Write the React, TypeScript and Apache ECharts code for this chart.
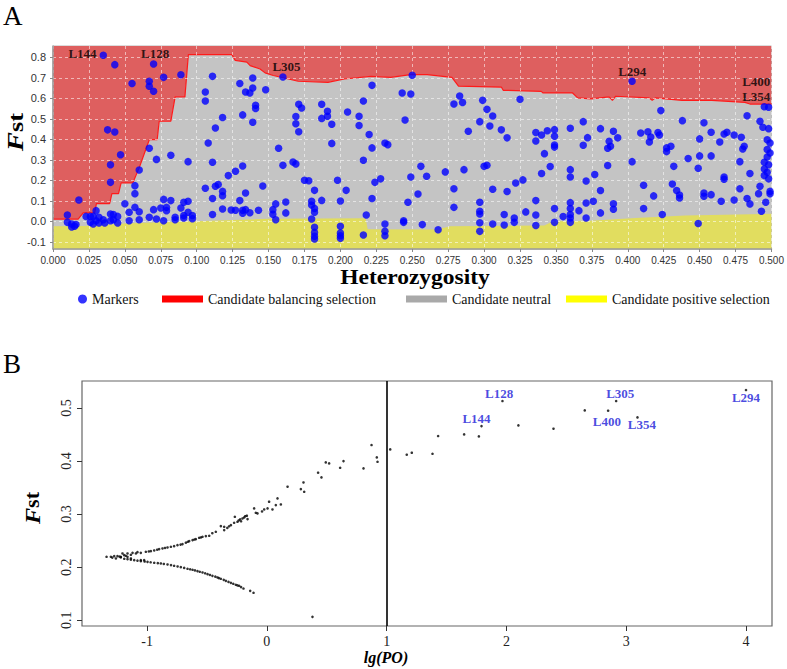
import React, { useEffect, useRef } from "react";
import * as echarts from "echarts";

// ---------- Panel A data (Heterozygosity vs Fst) ----------
const markers: number[][] = [
  [0.035,0.81],[0.043,0.764],[0.070,0.767],[0.055,0.672],[0.067,0.683],[0.067,0.659],[0.070,0.634],[0.077,0.702],[0.089,0.715],[0.111,0.707],
  [0.106,0.631],[0.106,0.587],[0.118,0.506],[0.113,0.455],[0.108,0.382],[0.038,0.446],[0.043,0.436],[0.047,0.325],[0.040,0.276],[0.040,0.19],
  [0.018,0.104],[0.010,0.031],[0.067,0.356],[0.072,0.302],[0.082,0.322],[0.094,0.291],[0.060,0.25],[0.111,0.288],[0.057,0.174],[0.057,0.135],
  [0.050,0.086],[0.057,0.068],[0.053,0.044],[0.060,0.047],[0.053,0.003],[0.060,0.008],[0.077,0.107],[0.082,0.101],[0.075,0.065],[0.079,0.068],
  [0.079,0.052],[0.070,0.057],[0.067,0.02],[0.072,0.011],[0.077,0.003],[0.085,0.02],[0.085,0.008],[0.091,0.093],[0.094,0.098],[0.089,0.065],
  [0.091,0.028],[0.094,0.044],[0.097,0.028],[0.097,0.013],[0.091,0.016],[0.106,0.161],[0.111,0.111],[0.113,0.171],[0.115,0.179],[0.118,0.146],
  [0.118,0.125],[0.122,0.223],[0.111,0.033],[0.118,0.06],[0.124,0.055],[0.030,0.052],[0.040,0.036],[0.042,0.033],[0.045,0.024],[0.040,0.003],
  [0.045,-0.008],[0.023,0.024],[0.026,0.024],[0.028,0.024],[0.032,0.02],[0.035,0.008],[0.026,-0.005],[0.028,-0.013],[0.032,-0.008],[0.036,-0.008],
  [0.010,-0.005],[0.013,-0.013],[0.015,-0.024],[0.013,-0.028],[0.016,-0.016],[0.030,0.003],[0.042,0.008],
  [0.160,0.704],[0.130,0.672],[0.139,0.699],[0.139,0.65],[0.134,0.631],[0.137,0.626],[0.148,0.642],[0.141,0.566],[0.141,0.55],[0.132,0.519],
  [0.139,0.483],[0.171,0.571],[0.173,0.553],[0.169,0.511],[0.169,0.476],[0.171,0.437],[0.187,0.571],[0.191,0.537],[0.191,0.512],[0.187,0.502],
  [0.194,0.473],[0.205,0.533],[0.216,0.587],[0.213,0.512],[0.213,0.467],[0.220,0.423],[0.222,0.358],[0.222,0.663],[0.231,0.382],[0.233,0.374],
  [0.216,0.298],[0.243,0.626],[0.249,0.621],[0.245,0.494],[0.249,0.216],[0.157,0.356],[0.160,0.273],[0.167,0.289],[0.169,0.28],[0.194,0.38],
  [0.127,0.244],[0.132,0.27],[0.146,0.172],[0.134,0.138],[0.130,0.101],[0.127,0.054],[0.132,0.054],[0.134,0.057],[0.132,0.039],[0.137,0.042],
  [0.143,0.054],[0.153,0.057],[0.153,0.034],[0.155,0.085],[0.162,0.094],[0.162,0.041],[0.155,0.008],[0.175,0.2],[0.178,0.198],[0.182,0.151],
  [0.180,0.098],[0.180,0.08],[0.182,0.063],[0.182,0.044],[0.180,0.011],[0.182,-0.029],[0.182,-0.054],[0.182,-0.073],[0.182,-0.086],[0.187,0.102],
  [0.198,0.2],[0.204,0.151],[0.200,0.099],[0.200,-0.024],[0.200,-0.057],[0.200,-0.07],[0.200,-0.082],[0.224,0.19],[0.228,0.207],[0.222,0.111],
  [0.218,0.031],[0.216,-0.067],[0.231,-0.013],[0.231,-0.049],[0.231,-0.07],[0.244,0.003],[0.244,-0.005],[0.247,0.093],
  [0.250,0.712],[0.279,0.572],[0.283,0.611],[0.285,0.58],[0.289,0.439],[0.299,0.59],[0.302,0.546],[0.306,0.514],[0.297,0.486],[0.304,0.465],
  [0.312,0.446],[0.316,0.407],[0.325,0.595],[0.336,0.433],[0.340,0.421],[0.336,0.392],[0.344,0.442],[0.349,0.447],[0.349,0.415],[0.349,0.372],
  [0.349,0.362],[0.342,0.33],[0.346,0.267],[0.340,0.233],[0.360,0.454],[0.369,0.486],[0.372,0.408],[0.369,0.371],[0.256,0.268],[0.260,0.22],
  [0.273,0.241],[0.286,0.252],[0.300,0.268],[0.302,0.273],[0.279,0.159],[0.306,0.156],[0.316,0.145],[0.322,0.187],[0.327,0.202],[0.254,0.133],
  [0.279,0.068],[0.297,0.093],[0.297,0.049],[0.297,0.036],[0.297,-0.007],[0.297,-0.049],[0.306,-0.013],[0.314,0.033],[0.314,-0.018],[0.321,0.016],
  [0.321,-0.005],[0.329,0.046],[0.336,0.101],[0.336,0.031],[0.336,-0.02],[0.257,-0.016],[0.268,-0.041],[0.349,0.062],[0.349,-0.005],[0.355,0.023],
  [0.360,0.091],[0.360,0.062],[0.360,0.033],[0.360,0.016],[0.360,-0.005],[0.366,0.052],[0.371,0.089],[0.371,0.016],[0.360,0.252],[0.360,0.216],
  [0.371,0.197],
  [0.403,0.683],[0.495,0.559],[0.498,0.556],[0.423,0.54],[0.438,0.491],[0.453,0.481],[0.483,0.515],[0.492,0.488],[0.494,0.459],[0.498,0.452],
  [0.381,0.452],[0.390,0.439],[0.393,0.407],[0.387,0.39],[0.388,0.366],[0.386,0.356],[0.409,0.431],[0.414,0.437],[0.416,0.411],[0.415,0.387],
  [0.421,0.433],[0.422,0.421],[0.427,0.358],[0.430,0.366],[0.427,0.34],[0.458,0.434],[0.450,0.402],[0.467,0.426],[0.469,0.434],[0.474,0.421],
  [0.479,0.41],[0.464,0.387],[0.481,0.366],[0.480,0.353],[0.450,0.319],[0.458,0.319],[0.442,0.306],[0.449,0.259],[0.403,0.291],[0.386,0.272],
  [0.432,0.268],[0.478,0.291],[0.377,0.228],[0.381,0.15],[0.411,0.176],[0.418,0.124],[0.431,0.182],[0.434,0.15],[0.436,0.128],[0.436,0.114],
  [0.467,0.216],[0.467,0.205],[0.485,0.233],[0.478,0.159],[0.453,0.138],[0.453,0.122],[0.458,0.13],[0.465,0.098],[0.474,0.104],[0.483,0.111],
  [0.485,0.085],[0.491,0.135],[0.492,0.171],[0.496,0.093],[0.493,0.049],[0.376,0.098],[0.390,0.086],[0.390,0.059],[0.381,0.041],[0.411,0.062],
  [0.424,0.033],[0.449,-0.011],
  [0.497,0.398],[0.499,0.382],[0.497,0.35],[0.499,0.333],[0.497,0.314],[0.495,0.288],[0.498,0.276],[0.495,0.255],[0.497,0.239],[0.495,0.223],
  [0.498,0.207],[0.499,0.146],[0.499,0.135],
];

const balancingBoundary: number[][] = [
  [0,0.011],[0.0175,0.011],[0.021,0.041],[0.029,0.041],[0.0302,0.086],[0.0394,0.086],[0.041,0.135],[0.0456,0.135],[0.0474,0.187],
  [0.0555,0.187],[0.0601,0.263],[0.067,0.398],[0.0725,0.398],[0.0739,0.488],[0.082,0.488],[0.085,0.607],[0.0918,0.607],[0.0942,0.813],
  [0.1245,0.813],[0.1268,0.785],[0.1349,0.776],[0.1372,0.759],[0.1441,0.743],[0.1476,0.724],[0.1533,0.711],[0.1706,0.683],[0.1913,0.678],
  [0.2028,0.694],[0.2212,0.707],[0.235,0.702],[0.2488,0.715],[0.2604,0.715],[0.2776,0.702],[0.2822,0.659],[0.3121,0.654],[0.3133,0.639],
  [0.3398,0.634],[0.3409,0.626],[0.3616,0.626],[0.3651,0.602],[0.3743,0.597],[0.387,0.607],[0.3893,0.59],[0.3916,0.61],[0.4147,0.602],
  [0.417,0.59],[0.4192,0.602],[0.4377,0.59],[0.4584,0.59],[0.4815,0.58],[0.485,0.572],[0.5,0.572],
];

const positiveBoundary: number[][] = [
  [0,-0.024],[0.022,-0.023],[0.05,-0.011],[0.075,-0.004],[0.1,0.0],[0.12,0.005],[0.15,0.013],[0.2175,0.015],[0.219,-0.039],
  [0.267,-0.04],[0.2765,-0.024],[0.342,-0.02],[0.3478,0.0],[0.374,0.003],[0.4054,0.016],[0.44,0.028],[0.5,0.037],
];

const labelsA = [
  { name: "L144", value: [0.0205, 0.818] },
  { name: "L128", value: [0.0711, 0.818] },
  { name: "L305", value: [0.1625, 0.757] },
  { name: "L294", value: [0.4031, 0.732] },
  { name: "L400", value: [0.4894, 0.683] },
  { name: "L354", value: [0.4894, 0.607] },
];

const fstTicksA = [-0.1, 0, 0.1, 0.2, 0.3, 0.4, 0.5, 0.6, 0.7, 0.8];

// ---------- Panel B data (lg(PO) vs Fst) ----------
const lgpoPoints: number[][] = [
  [-1.338,0.2195],[-1.302,0.2195],[-1.274,0.2208],[-1.26,0.2164],[-1.247,0.2208],[-1.219,0.2182],[-1.205,0.2258],[-1.191,0.2226],
  [-1.163,0.2195],[-1.163,0.2258],[-1.135,0.2164],[-1.121,0.227],[-1.08,0.2283],[-1.052,0.2132],[-1.024,0.2132],[-1.29,0.2180],[-1.23,0.2200],
  // upper branch
  [-1.219,0.2195],[-1.177,0.2214],[-1.135,0.2233],[-1.093,0.2258],[-1.052,0.227],[-1.01,0.2289],[-0.968,0.2302],[-0.94,0.2314],[-0.899,0.234],
  [-0.871,0.2352],[-0.829,0.2371],[-0.801,0.2384],[-0.774,0.2396],[-0.746,0.2415],[-0.704,0.2434],[-0.676,0.246],[-0.648,0.2491],[-0.62,0.251],
  [-0.593,0.2528],[-0.565,0.2553],[-0.537,0.2572],[-0.509,0.2585],[-0.481,0.2591],[-0.426,0.2667],[-0.384,0.2774],[-0.356,0.2761],[-0.356,0.2698],
  [-0.3,0.2792],[-0.273,0.2836],[-0.267,0.295],[-0.245,0.2855],[-0.223,0.29],[-0.203,0.2918],[-0.189,0.2937],[-0.167,0.2969],[-0.161,0.2906],
  [-0.106,0.3107],[-0.092,0.3025],[-0.078,0.3013],[-0.022,0.3088],[0.006,0.3107],[0.019,0.3233],[0.047,0.3088],[0.075,0.317],[0.089,0.3296],
  [0.117,0.3182],[0.173,0.3516],[0.284,0.3472],[0.306,0.3597],[0.312,0.3421],[0.428,0.378],[0.456,0.3692],[0.492,0.3975],[0.52,0.3956],
  [0.612,0.3874],[0.64,0.4],[0.807,0.3862],[0.874,0.4302],[0.918,0.4069],[0.924,0.3987],[1.03,0.422],
  [-0.985,0.2295],[-0.915,0.2328],[-0.85,0.2362],[-0.72,0.2425],[-0.66,0.2478],[-0.605,0.2520],[-0.55,0.2560],[-0.455,0.2640],[-0.33,0.2740],
  [-0.315,0.2770],[-0.235,0.2880],[-0.215,0.2865],[-0.18,0.2960],[-0.04,0.3050],
  // lower branch
  [-1.163,0.2151],[-1.107,0.2132],[-1.052,0.2113],[-0.996,0.21],[-0.94,0.2082],[-0.885,0.2069],[-0.829,0.205],[-0.774,0.2025],[-0.718,0.2],
  [-0.662,0.1969],[-0.62,0.195],[-0.579,0.1925],[-0.537,0.19],[-0.495,0.1868],[-0.454,0.1836],[-0.412,0.1805],[-0.384,0.178],[-0.342,0.1742],
  [-0.3,0.1704],[-0.259,0.1667],[-0.231,0.1648],[-0.195,0.1597],[-0.139,0.1553],[-0.111,0.1516],
  [-1.19,0.2158],[-1.135,0.2140],[-1.08,0.2122],[-1.02,0.2106],[-0.97,0.2092],[-0.91,0.2075],[-0.86,0.2060],[-0.80,0.2038],[-0.745,0.2013],
  [-0.69,0.1985],[-0.64,0.1960],[-0.60,0.1938],[-0.56,0.1912],[-0.515,0.1884],[-0.475,0.1852],[-0.43,0.1820],[-0.40,0.1793],[-0.36,0.1760],
  [-0.32,0.1722],[-0.28,0.1686],[-0.245,0.1655],[-0.215,0.1624],
  // outlier and right side
  [0.381,0.1063],
  [1.168,0.412],[1.21,0.4157],[1.383,0.4138],[1.43,0.4472],[1.647,0.4503],[1.77,0.4465],[1.792,0.466],[1.967,0.5132],[2.1,0.4673],
  [2.393,0.461],[2.654,0.4956],[2.849,0.495],[2.916,0.5132],[3.094,0.4824],[4.0,0.534],
];

const labelsB = [
  { name: "L128", value: [1.939, 0.5277] },
  { name: "L144", value: [1.75, 0.4805] },
  { name: "L305", value: [2.95, 0.5277] },
  { name: "L400", value: [2.838, 0.4755] },
  { name: "L354", value: [3.13, 0.469] },
  { name: "L294", value: [4.0, 0.52] },
];

const lgpoTicks = [-1, 0, 1, 2, 3, 4];
const fstTicksB = [0.1, 0.2, 0.3, 0.4, 0.5];
const thresholdLgPO = 1;

const SERIF = '"Liberation Serif", "Times New Roman", serif';
const SANS = '"Liberation Sans", Arial, sans-serif';

export default function App() {
  const ref = useRef<HTMLDivElement>(null);
  useEffect(() => {
    if (!ref.current) return;
    const chart = echarts.init(ref.current, null, { renderer: "svg" });
    const legendBase = {
      orient: "horizontal",
      top: 292,
      padding: 0,
      selectedMode: false,
      itemGap: 0,
      textStyle: { fontFamily: SERIF, fontSize: 14, color: "#111" },
    };
    chart.setOption({
      animation: false,
      backgroundColor: "#fff",
      grid: [
        { left: 53, top: 46, width: 724, height: 203, show: true, backgroundColor: "transparent", borderColor: "#b8b8b8", borderWidth: 1 },
        { left: 82, top: 381, width: 690, height: 245, show: true, backgroundColor: "transparent", borderColor: "#666", borderWidth: 1.2 },
      ],
      legend: [
        { ...legendBase, left: 78, itemWidth: 9, itemHeight: 9, icon: "circle", data: [{ name: "Markers", itemStyle: { color: "#0000ff" } }] },
        { ...legendBase, left: 162, itemWidth: 41, itemHeight: 7, icon: "rect", data: [{ name: "Candidate balancing selection", itemStyle: { color: "#ff0000", borderWidth: 0 } }] },
        { ...legendBase, left: 406, itemWidth: 41, itemHeight: 7, icon: "rect", data: [{ name: "Candidate neutral", itemStyle: { color: "#a9a9a9", borderWidth: 0 } }] },
        { ...legendBase, left: 566, itemWidth: 41, itemHeight: 7, icon: "rect", data: [{ name: "Candidate positive selection", itemStyle: { color: "#ffff00", borderWidth: 0 } }] },
      ],
      xAxis: [
        {
          type: "value", gridIndex: 0, min: 0, max: 0.5, interval: 0.025, z: 10,
          axisLine: { show: true, onZero: false, lineStyle: { color: "#9a9a9a", width: 1.5 } },
          axisTick: { show: true, length: 3, lineStyle: { color: "#888" } },
          axisLabel: { fontFamily: SANS, fontSize: 10, color: "#333", margin: 6, formatter: (v: number) => v.toFixed(3) },
          splitLine: { show: true, lineStyle: { type: [3, 3], color: "rgba(255,255,255,0.55)", width: 1 } },
        },
        {
          type: "value", gridIndex: 1, min: -1.543, max: 4.217,
          axisLine: { show: false, onZero: false },
          axisTick: { show: true, length: 5, customValues: lgpoTicks, lineStyle: { color: "#333" } },
          axisLabel: { fontFamily: SERIF, fontSize: 14, color: "#222", margin: 8, customValues: lgpoTicks, formatter: (v: number) => String(v) },
          splitLine: { show: false },
        },
      ],
      yAxis: [
        {
          type: "value", gridIndex: 0, min: -0.135, max: 0.855, z: 10,
          axisLine: { show: true, onZero: false, lineStyle: { color: "#9a9a9a", width: 1.5 } },
          axisTick: { show: true, length: 3, customValues: fstTicksA, lineStyle: { color: "#888" } },
          axisLabel: { fontFamily: SANS, fontSize: 11, color: "#333", margin: 7, customValues: fstTicksA, formatter: (v: number) => v.toFixed(1) },
          splitLine: { show: true, lineStyle: { type: [3, 3], color: "rgba(255,255,255,0.55)", width: 1 } },
        },
        {
          type: "value", gridIndex: 1, min: 0.089, max: 0.551,
          axisLine: { show: false, onZero: false },
          axisTick: { show: true, length: 5, customValues: fstTicksB, lineStyle: { color: "#333" } },
          axisLabel: { fontFamily: SERIF, fontSize: 14, color: "#222", margin: 9, rotate: 90, customValues: fstTicksB, formatter: (v: number) => v.toFixed(1) },
          splitLine: { show: false },
        },
      ],
      series: [
        {
          name: "Candidate neutral", type: "line", xAxisIndex: 0, yAxisIndex: 0, data: balancingBoundary,
          symbol: "none", silent: true, z: 2,
          lineStyle: { width: 0, opacity: 0 },
          areaStyle: { color: "#c4c4c4", opacity: 1, origin: "start" },
        },
        {
          name: "Candidate positive selection", type: "line", xAxisIndex: 0, yAxisIndex: 0, data: positiveBoundary,
          symbol: "none", silent: true, z: 3,
          lineStyle: { width: 0, opacity: 0 },
          areaStyle: { color: "#e1dd5f", opacity: 1, origin: "start" },
        },
        {
          name: "Candidate balancing selection", type: "line", xAxisIndex: 0, yAxisIndex: 0, data: balancingBoundary,
          symbol: "none", silent: true, z: 4,
          lineStyle: { width: 1.2, color: "#ff1a1a" },
          areaStyle: { color: "#de5f5f", opacity: 1, origin: "end" },
        },
        {
          name: "Markers", type: "scatter", xAxisIndex: 0, yAxisIndex: 0, data: markers,
          symbolSize: 7.5, itemStyle: { color: "#0000ff" }, z: 20,
        },
        {
          name: "labelsA", type: "scatter", xAxisIndex: 0, yAxisIndex: 0, data: labelsA,
          symbolSize: 1, itemStyle: { color: "transparent" }, z: 21, silent: true,
          label: { show: true, position: "inside", formatter: "{b}", fontFamily: SERIF, fontWeight: "bold", fontSize: 13, color: "#000" },
        },
        {
          name: "lgPO", type: "scatter", xAxisIndex: 1, yAxisIndex: 1, data: lgpoPoints,
          symbolSize: 2.6, itemStyle: { color: "#000" }, z: 5,
          markLine: {
            silent: true, symbol: "none", label: { show: false },
            lineStyle: { color: "#000", width: 1.6, type: "solid" },
            data: [{ xAxis: thresholdLgPO }],
          },
        },
        {
          name: "labelsB", type: "scatter", xAxisIndex: 1, yAxisIndex: 1, data: labelsB,
          symbolSize: 1, itemStyle: { color: "transparent" }, z: 21, silent: true,
          label: { show: true, position: "inside", formatter: "{b}", fontFamily: SERIF, fontWeight: "bold", fontSize: 13, color: "#1a1ad8" },
        },
      ],
      graphic: [
        { type: "text", x: 3, y: 16, style: { text: "A", font: `normal 27px ${SERIF}`, fill: "#000", verticalAlign: "middle" } },
        { type: "text", x: 3, y: 364, style: { text: "B", font: `normal 27px ${SERIF}`, fill: "#000", verticalAlign: "middle" } },
        {
          type: "text", x: 415, y: 277, scaleX: 1.12,
          style: { text: "Heterozygosity", font: `bold 21px ${SERIF}`, fill: "#000", align: "center", verticalAlign: "middle" },
        },
        {
          type: "text", x: 15, y: 132, rotation: Math.PI / 2, scaleX: 1.2,
          style: {
            text: "{f|F}{s|st}", align: "center", verticalAlign: "middle",
            rich: {
              f: { fontFamily: SERIF, fontStyle: "italic", fontWeight: "bold", fontSize: 24, fill: "#000" },
              s: { fontFamily: SERIF, fontWeight: "bold", fontSize: 22, fill: "#000" },
            },
          },
        },
        {
          type: "text", x: 32, y: 508, rotation: Math.PI / 2, scaleX: 1.1,
          style: {
            text: "{f|F}{s|st}", align: "center", verticalAlign: "middle",
            rich: {
              f: { fontFamily: SERIF, fontStyle: "italic", fontWeight: "bold", fontSize: 22, fill: "#000" },
              s: { fontFamily: SERIF, fontWeight: "bold", fontSize: 20, fill: "#000" },
            },
          },
        },
        {
          type: "text", x: 386, y: 657,
          style: { text: "lg(PO)", font: `italic bold 16px ${SERIF}`, fill: "#000", align: "center", verticalAlign: "middle" },
        },
      ],
    });
    return () => chart.dispose();
  }, []);
  return <div ref={ref} style={{ position: "absolute", left: 0, top: 0, width: 787, height: 669 }} />;
}
